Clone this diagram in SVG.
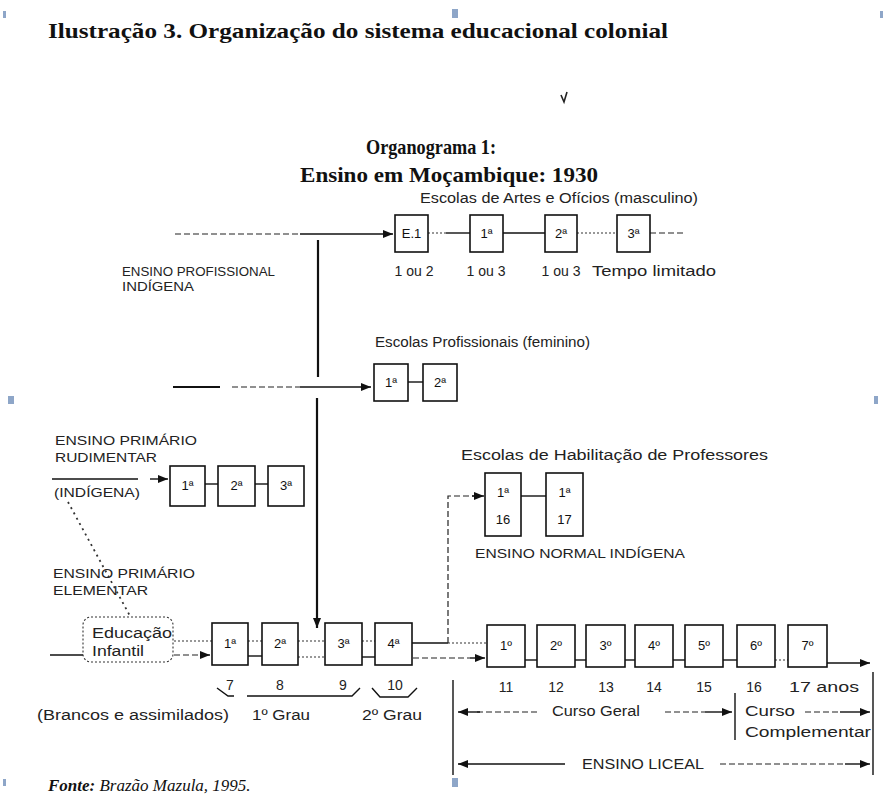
<svg xmlns="http://www.w3.org/2000/svg" width="886" height="798" viewBox="0 0 886 798">
<defs>
<style>
.t{font-family:"Liberation Sans",Arial,sans-serif;fill:#222;font-size:14px}
.c{text-anchor:middle}
.bt{font-family:"Liberation Sans",Arial,sans-serif;fill:#111;font-size:13px;text-anchor:middle}
.cap{font-family:"Liberation Sans",Arial,sans-serif;fill:#222;font-size:13px}
.hd{font-family:"Liberation Serif","Times New Roman",serif;font-weight:bold;fill:#111;font-size:21px}
.box{fill:#fff;stroke:#111;stroke-width:1.6}
.ln{stroke:#111;stroke-width:1.4;fill:none}
.thk{stroke:#111;stroke-width:2.2;fill:none}
.dot{stroke:#333;stroke-width:1.1;stroke-dasharray:2 2;fill:none}
.dash{stroke:#222;stroke-width:1.2;stroke-dasharray:6 3;fill:none}
.hdl{fill:#8ea6c8}
</style>
<marker id="ah" viewBox="0 0 10 8" refX="10" refY="4" markerWidth="10" markerHeight="8" markerUnits="userSpaceOnUse" orient="auto"><path d="M0,0 L10,4 L0,8 z" fill="#111"/></marker>
</defs>
<rect width="886" height="798" fill="#fff"/>

<g id="handles">
<rect class="hdl" x="3" y="11" width="3" height="7"/>
<rect class="hdl" x="452" y="9" width="6" height="9"/>
<rect class="hdl" x="880" y="11" width="3" height="7"/>
<rect class="hdl" x="8" y="396" width="6" height="8"/>
<rect class="hdl" x="874" y="396" width="4" height="8"/>
<rect class="hdl" x="3" y="779" width="3" height="7"/>
<rect class="hdl" x="452" y="778" width="6" height="9"/>
</g>

<g id="titles">
<text class="hd" x="48" y="38" textLength="620" lengthAdjust="spacingAndGlyphs">Ilustração 3. Organização do sistema educacional colonial</text>
<path d="M561,95 L564,102 L567,92" stroke="#222" stroke-width="1.6" fill="none"/>
<text class="hd" x="366" y="154" textLength="130" lengthAdjust="spacingAndGlyphs">Organograma 1:</text>
<text class="hd" x="300" y="182" textLength="298" lengthAdjust="spacingAndGlyphs">Ensino em Moçambique: 1930</text>
<text class="t" x="420" y="203" textLength="278" lengthAdjust="spacingAndGlyphs">Escolas de Artes e Ofícios (masculino)</text>
<text class="t" x="375" y="347" textLength="215" lengthAdjust="spacingAndGlyphs">Escolas Profissionais (feminino)</text>
<text class="t" x="461" y="460" textLength="307" lengthAdjust="spacingAndGlyphs">Escolas de Habilitação de Professores</text>
<text class="cap" x="475" y="558" textLength="210" lengthAdjust="spacingAndGlyphs">ENSINO NORMAL INDÍGENA</text>
<text class="cap" x="122" y="276" textLength="153" lengthAdjust="spacingAndGlyphs">ENSINO PROFISSIONAL</text>
<text class="cap" x="122" y="291" textLength="72" lengthAdjust="spacingAndGlyphs">INDÍGENA</text>
<text class="cap" x="55" y="445" textLength="142" lengthAdjust="spacingAndGlyphs">ENSINO PRIMÁRIO</text>
<text class="cap" x="55" y="462" textLength="102" lengthAdjust="spacingAndGlyphs">RUDIMENTAR</text>
<text class="cap" x="54" y="497" textLength="86" lengthAdjust="spacingAndGlyphs">(INDÍGENA)</text>
<text class="cap" x="53" y="578" textLength="142" lengthAdjust="spacingAndGlyphs">ENSINO PRIMÁRIO</text>
<text class="cap" x="53" y="595" textLength="95" lengthAdjust="spacingAndGlyphs">ELEMENTAR</text>
</g>

<g id="connectors">
<path class="dash" d="M175,234 H300"/>
<path class="ln" d="M300,234 H393" marker-end="url(#ah)"/>
<path class="dot" d="M428,233 H446"/><path class="ln" d="M446,233 H470"/>
<path class="ln" d="M503,233 H545"/>
<path class="dot" d="M577,233 H617"/>
<path class="dash" d="M650,233 H686"/>
<path class="thk" d="M318,240 V377"/>
<path class="thk" d="M317,398 V628" marker-end="url(#ah)"/>
<path class="thk" d="M173,387 H220"/>
<path class="dash" d="M232,387 H300"/>
<path class="ln" d="M300,387 H371" marker-end="url(#ah)"/>
<path class="ln" d="M408,382 H423"/>
<path class="ln" d="M52,479 H138"/>
<path class="ln" d="M150,479 H168" marker-end="url(#ah)"/>
<path class="ln" d="M205,484 H218"/>
<path class="ln" d="M255,484 H268"/>
<path d="M68,502 L130,616" stroke="#333" stroke-width="1.8" stroke-dasharray="2 4" fill="none"/>
<path class="ln" d="M50,655 H83"/>
<path class="dash" d="M174,655 H200"/>
<path class="ln" d="M200,655 H210" marker-end="url(#ah)"/>
<path class="dot" d="M174,641 H212"/>
<path class="dot" d="M248,641 H262"/><path class="ln" d="M248,656 H262"/>
<path class="dot" d="M298,641 H325"/><path class="dot" d="M298,657 H325"/>
<path class="dot" d="M362,641 H375"/><path class="ln" d="M362,657 H375"/>
<path class="ln" d="M412,643 H448"/><path class="dot" d="M448,643 H487"/>
<path class="dash" d="M413,658 H470"/>
<path class="ln" d="M470,658 H485" marker-end="url(#ah)"/>
<path class="dash" d="M448,643 V496 H474"/>
<path class="ln" d="M472,496 H484" marker-end="url(#ah)"/>
<path class="ln" d="M521,496 H546"/>
<path class="ln" d="M525,660 H537"/>
<path class="ln" d="M575,660 H586"/>
<path class="ln" d="M625,660 H635"/>
<path class="ln" d="M673,660 H685"/>
<path class="ln" d="M723,660 H737"/>
<path class="dot" d="M775,660 H788"/>
<path class="ln" d="M827,663 H870" marker-end="url(#ah)"/>
<path class="ln" d="M217,688 L228,696 H234"/>
<path class="ln" d="M247,696 H352 L360,688"/>
<path class="ln" d="M372,688 L380,697 H408 L417,688"/>
<path class="ln" d="M453,680 V775"/>
<path class="ln" d="M735,693 V740"/>
<path class="ln" d="M873,672 V775"/>
<path class="dash" d="M537,712 H475"/>
<path class="ln" d="M480,712 H458" marker-end="url(#ah)"/>
<path class="dash" d="M665,712 H705"/>
<path class="ln" d="M705,712 H732" marker-end="url(#ah)"/>
<path class="dash" d="M805,712 H840"/>
<path class="ln" d="M840,712 H870" marker-end="url(#ah)"/>
<path class="ln" d="M565,764 H458" marker-end="url(#ah)"/>
<path class="dash" d="M720,764 H845"/>
<path class="ln" d="M845,764 H870" marker-end="url(#ah)"/>
</g>

<g id="ao-e1"><rect class="box" x="395" y="215" width="33" height="37"/><text class="bt" x="411.5" y="238">E.1</text><text class="t c" x="414" y="276">1 ou 2</text></g>
<g id="ao-1"><rect class="box" x="470" y="215" width="33" height="37"/><text class="bt" x="486.5" y="238">1ª</text><text class="t c" x="486" y="276">1 ou 3</text></g>
<g id="ao-2"><rect class="box" x="545" y="215" width="32" height="37"/><text class="bt" x="561" y="238">2ª</text><text class="t c" x="561" y="276">1 ou 3</text></g>
<g id="ao-3"><rect class="box" x="617" y="215" width="33" height="37"/><text class="bt" x="633.5" y="238">3ª</text><text class="t" x="592" y="276" textLength="124" lengthAdjust="spacingAndGlyphs">Tempo limitado</text></g>

<g id="fem-1"><rect class="box" x="374" y="364" width="34" height="37"/><text class="bt" x="391" y="387">1ª</text></g>
<g id="fem-2"><rect class="box" x="423" y="364" width="34" height="37"/><text class="bt" x="440" y="387">2ª</text></g>

<g id="rud-1"><rect class="box" x="170" y="466" width="35" height="40"/><text class="bt" x="187.5" y="490">1ª</text></g>
<g id="rud-2"><rect class="box" x="218" y="466" width="37" height="40"/><text class="bt" x="236.5" y="490">2ª</text></g>
<g id="rud-3"><rect class="box" x="268" y="466" width="36" height="40"/><text class="bt" x="286" y="490">3ª</text></g>

<g id="hab-1"><rect class="box" x="485" y="473" width="36" height="63"/><text class="bt" x="503" y="497">1ª</text><text class="bt" x="503" y="524">16</text></g>
<g id="hab-2"><rect class="box" x="546" y="473" width="37" height="63"/><text class="bt" x="564.5" y="497">1ª</text><text class="bt" x="564.5" y="524">17</text></g>

<g id="edu-inf"><rect x="83" y="617" width="90" height="45" rx="8" fill="#fff" stroke="#333" stroke-width="1.1" stroke-dasharray="2 2"/><text class="t" x="92" y="638" textLength="80" lengthAdjust="spacingAndGlyphs">Educação</text><text class="t" x="92" y="656" textLength="52" lengthAdjust="spacingAndGlyphs">Infantil</text></g>

<g id="pri-1"><rect class="box" x="212" y="623" width="36" height="42"/><text class="bt" x="230" y="648">1ª</text><text class="t c" x="230" y="690" font-size="15">7</text></g>
<g id="pri-2"><rect class="box" x="262" y="623" width="36" height="42"/><text class="bt" x="280" y="648">2ª</text><text class="t c" x="280" y="690" font-size="15">8</text></g>
<g id="pri-3"><rect class="box" x="325" y="623" width="37" height="42"/><text class="bt" x="343.5" y="648">3ª</text><text class="t c" x="343" y="690" font-size="15">9</text></g>
<g id="pri-4"><rect class="box" x="375" y="623" width="37" height="42"/><text class="bt" x="393.5" y="648">4ª</text><text class="t c" x="395" y="690" font-size="15">10</text></g>

<g id="lic-1"><rect class="box" x="487" y="625" width="38" height="42"/><text class="bt" x="506" y="650">1º</text><text class="t c" x="506" y="692" font-size="15">11</text></g>
<g id="lic-2"><rect class="box" x="537" y="625" width="38" height="42"/><text class="bt" x="556" y="650">2º</text><text class="t c" x="556" y="692" font-size="15">12</text></g>
<g id="lic-3"><rect class="box" x="586" y="625" width="39" height="42"/><text class="bt" x="605.5" y="650">3º</text><text class="t c" x="606" y="692" font-size="15">13</text></g>
<g id="lic-4"><rect class="box" x="635" y="625" width="38" height="42"/><text class="bt" x="654" y="650">4º</text><text class="t c" x="654" y="692" font-size="15">14</text></g>
<g id="lic-5"><rect class="box" x="685" y="625" width="38" height="42"/><text class="bt" x="704" y="650">5º</text><text class="t c" x="704" y="692" font-size="15">15</text></g>
<g id="lic-6"><rect class="box" x="737" y="625" width="38" height="42"/><text class="bt" x="756" y="650">6º</text><text class="t c" x="754" y="692" font-size="15">16</text></g>
<g id="lic-7"><rect class="box" x="788" y="625" width="39" height="42"/><text class="bt" x="807.5" y="650">7º</text><text class="t" x="789" y="692" font-size="15" textLength="70" lengthAdjust="spacingAndGlyphs">17 anos</text></g>

<g id="labels">
<text class="t" x="37" y="720" font-size="15" textLength="192" lengthAdjust="spacingAndGlyphs">(Brancos e assimilados)</text>
<text class="t" x="252" y="720" font-size="15" textLength="58" lengthAdjust="spacingAndGlyphs">1º Grau</text>
<text class="t" x="362" y="720" font-size="15" textLength="60" lengthAdjust="spacingAndGlyphs">2º Grau</text>
<text class="t" x="552" y="716" font-size="15" textLength="88" lengthAdjust="spacingAndGlyphs">Curso Geral</text>
<text class="t" x="745" y="716" font-size="15" textLength="50" lengthAdjust="spacingAndGlyphs">Curso</text>
<text class="t" x="745" y="737" font-size="15" textLength="126" lengthAdjust="spacingAndGlyphs">Complementar</text>
<text class="t" x="582" y="769" textLength="122" lengthAdjust="spacingAndGlyphs">ENSINO LICEAL</text>
<text x="48" y="791" font-family="'Liberation Serif','Times New Roman',serif" font-size="17" font-style="italic" fill="#111"><tspan font-weight="bold">Fonte:</tspan> Brazão Mazula, 1995.</text>
</g>
</svg>
